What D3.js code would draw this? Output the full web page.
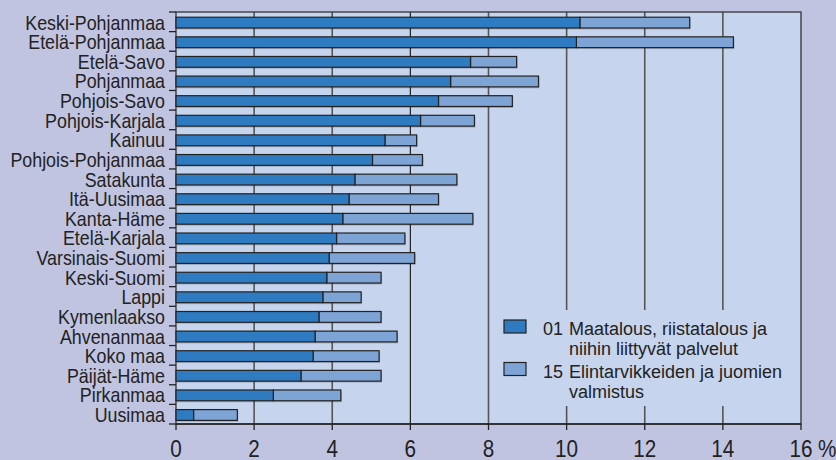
<!DOCTYPE html>
<html>
<head>
<meta charset="utf-8">
<script src="https://cdn.jsdelivr.net/npm/d3@7"></script>
<style>
  body { margin: 0; background: #c0c4e0; }
  svg { display: block; }
  text { font-family: "Liberation Sans", Arial, sans-serif; fill: #222; }
</style>
</head>
<body>
<div id="chart"></div>
<script>
var regions = ["Keski-Pohjanmaa", "Etelä-Pohjanmaa", "Etelä-Savo", "Pohjanmaa", "Pohjois-Savo",
  "Pohjois-Karjala", "Kainuu", "Pohjois-Pohjanmaa", "Satakunta", "Itä-Uusimaa", "Kanta-Häme",
  "Etelä-Karjala", "Varsinais-Suomi", "Keski-Suomi", "Lappi", "Kymenlaakso", "Ahvenanmaa",
  "Koko maa", "Päijät-Häme", "Pirkanmaa", "Uusimaa"];
// 01 Maatalous (% share)
var agri = [10.34, 10.25, 7.54, 7.03, 6.72, 6.26, 5.35, 5.03, 4.58, 4.43, 4.27,
  4.11, 3.92, 3.86, 3.76, 3.66, 3.56, 3.51, 3.20, 2.49, 0.45];
// 15 Elintarvikkeet (% share), stacked on top
var food = [2.81, 4.02, 1.18, 2.25, 1.89, 1.38, 0.81, 1.28, 2.61, 2.29, 3.33,
  1.75, 2.19, 1.39, 0.98, 1.59, 2.10, 1.69, 2.05, 1.73, 1.12];
var xTicks = [0, 2, 4, 6, 8, 10, 12, 14, 16];
var legendLines = [
  ["01", "Maatalous, riistatalous ja", "niihin liittyvät palvelut"],
  ["15", "Elintarvikkeiden ja juomien", "valmistus"]
];

var w = 836, h = 460;
var pLeft = 176, pRight = 801, pTop = 12, pBottom = 424;
var dark = "#2f7bc1", light = "#7ea3d5", plotBg = "#c6d4ee";

var svg = d3.select("#chart").append("svg")
  .attr("width", w)
  .attr("height", h);

var x = d3.scaleLinear().domain([0, 16]).range([pLeft, pRight]);
var y = d3.scaleBand().domain(regions).range([pTop, pBottom])
  .paddingInner(0.45).paddingOuter(0.225);
var step = y.step();

svg.append("rect")
  .attr("x", pLeft).attr("y", pTop)
  .attr("width", pRight - pLeft).attr("height", pBottom - pTop)
  .attr("fill", plotBg);

// grid lines
svg.append("g").selectAll("line")
  .data(xTicks.filter(function(d){ return d > 0 && d < 16; }))
  .enter().append("line")
  .attr("x1", function(d){ return x(d); })
  .attr("x2", function(d){ return x(d); })
  .attr("y1", pTop).attr("y2", pBottom)
  .attr("stroke", function(d){ return d == 6 ? "#222" : "#555"; })
  .attr("stroke-width", function(d){ return d == 6 ? 1.2 : 1.6; });

// legend background hides grid
var legend = svg.append("g");
legend.append("rect")
  .attr("x", 494).attr("y", 310)
  .attr("width", 306).attr("height", 96)
  .attr("fill", plotBg);

// frame
svg.append("rect")
  .attr("x", pLeft).attr("y", pTop)
  .attr("width", pRight - pLeft).attr("height", pBottom - pTop)
  .attr("fill", "none")
  .attr("stroke", "#333").attr("stroke-width", 1.3);

var rows = regions.map(function(r, i){
  return { name: r, a: agri[i], b: food[i] };
});

var bars = svg.append("g").selectAll("g")
  .data(rows).enter().append("g")
  .attr("transform", function(d){ return "translate(0," + (y(d.name) + 0.8) + ")"; });

// soft shadow
bars.append("rect")
  .attr("x", x(0) + 1).attr("y", 1.5)
  .attr("width", function(d){ return x(d.a + d.b) - x(0); })
  .attr("height", y.bandwidth())
  .attr("fill", "#000").attr("opacity", 0.18);

bars.append("rect")
  .attr("x", function(d){ return x(d.a); })
  .attr("width", function(d){ return x(d.a + d.b) - x(d.a); })
  .attr("height", y.bandwidth())
  .attr("fill", light)
  .attr("stroke", "#222").attr("stroke-width", 1.2);

bars.append("rect")
  .attr("x", x(0))
  .attr("width", function(d){ return x(d.a) - x(0); })
  .attr("height", y.bandwidth())
  .attr("fill", dark)
  .attr("stroke", "#222").attr("stroke-width", 1.2);

// y axis ticks at band boundaries
var yTickPos = d3.range(regions.length + 1).map(function(i){ return pTop + i * step; });
svg.append("g").selectAll("line")
  .data(yTickPos).enter().append("line")
  .attr("x1", pLeft - 7).attr("x2", pLeft)
  .attr("y1", function(d){ return d; }).attr("y2", function(d){ return d; })
  .attr("stroke", "#222").attr("stroke-width", 1.3);

// condensed look: squeeze Liberation Sans horizontally
svg.append("g").selectAll("text")
  .data(regions).enter().append("text")
  .attr("transform", function(d){
    return "translate(165," + (y(d) + y.bandwidth() / 2 + 0.8) + ") scale(0.915,1)";
  })
  .attr("dy", "0.36em")
  .attr("text-anchor", "end")
  .attr("font-size", 19.5)
  .text(function(d){ return d; });

// x axis
var xAxis = svg.append("g");
xAxis.append("line")
  .attr("x1", pLeft).attr("x2", pRight)
  .attr("y1", pBottom).attr("y2", pBottom)
  .attr("stroke", "#222").attr("stroke-width", 1.4);
xAxis.selectAll(".tk").data(xTicks).enter().append("line")
  .attr("x1", function(d){ return x(d); }).attr("x2", function(d){ return x(d); })
  .attr("y1", pBottom).attr("y2", pBottom + 6)
  .attr("stroke", "#222").attr("stroke-width", 1.3);
xAxis.selectAll("text").data(xTicks).enter().append("text")
  .attr("transform", function(d){ return "translate(" + x(d) + ",457) scale(0.88,1)"; })
  .attr("text-anchor", "middle")
  .attr("font-size", 23.5)
  .text(function(d){ return d; });
xAxis.append("text")
  .attr("transform", "translate(" + (x(16) + 17) + ",457) scale(0.88,1)")
  .attr("font-size", 23.5)
  .text("%");

// legend
var swatchCols = [dark, light];
legendLines.forEach(function(l, i){
  var y0 = 320 + i * 42.5;
  legend.append("rect")
    .attr("x", 504).attr("y", y0)
    .attr("width", 22).attr("height", 13)
    .attr("fill", swatchCols[i])
    .attr("stroke", "#222").attr("stroke-width", 1.2);
  legend.append("text")
    .attr("x", 543).attr("y", y0 + 15)
    .attr("font-size", 18)
    .text(l[0]);
  legend.append("text")
    .attr("x", 569).attr("y", y0 + 15)
    .attr("font-size", 18)
    .text(l[1]);
  legend.append("text")
    .attr("x", 569).attr("y", y0 + 35)
    .attr("font-size", 18)
    .text(l[2]);
});
</script>
</body>
</html>
